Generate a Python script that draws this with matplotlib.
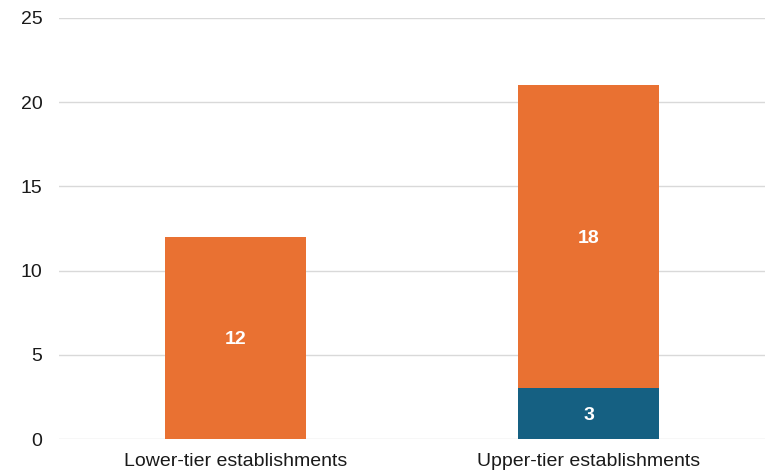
import matplotlib.pyplot as plt
import numpy as np

# chart data
categories = ["Lower-tier establishments", "Upper-tier establishments"]
blue_vals = [0, 3]
orange_vals = [12, 18]
y_ticks = [0, 5, 10, 15, 20, 25]

plt.rcParams['font.family'] = ['Liberation Sans', 'DejaVu Sans']

fig = plt.figure(figsize=(7.65, 4.72), dpi=100)
ax = fig.add_axes([0.0771, 0.0699, 0.9229, 0.892])

x = np.arange(len(categories))
width = 0.4
blue = "#156082"
orange = "#E97132"

ax.bar(x, blue_vals, width, color=blue, zorder=3)
ax.bar(x, orange_vals, width, bottom=blue_vals, color=orange, zorder=3)

# value labels in the middle of each segment
for i in range(len(categories)):
    if blue_vals[i] > 0:
        ax.text(x[i], blue_vals[i] / 2, str(blue_vals[i]), ha='center', va='center_baseline',
                color='white', fontweight='bold', fontsize=14)
    if orange_vals[i] > 0:
        ax.text(x[i], blue_vals[i] + orange_vals[i] / 2, str(orange_vals[i]), ha='center',
                va='center_baseline', color='white', fontweight='bold', fontsize=14)

ax.set_xlim(-0.5, 1.5)
ax.set_ylim(0, 25)
ax.set_yticks(y_ticks)
ax.set_xticks(x)
ax.set_xticklabels(categories)
ax.yaxis.grid(True, color="#D9D9D9", linewidth=1)
ax.set_axisbelow(True)
for s in ax.spines.values():
    s.set_visible(False)
ax.tick_params(axis='both', length=0, labelsize=14, colors="#1a1a1a")
ax.tick_params(axis='y', pad=12)
ax.tick_params(axis='x', pad=10)

fig.savefig("out.png", dpi=100)
